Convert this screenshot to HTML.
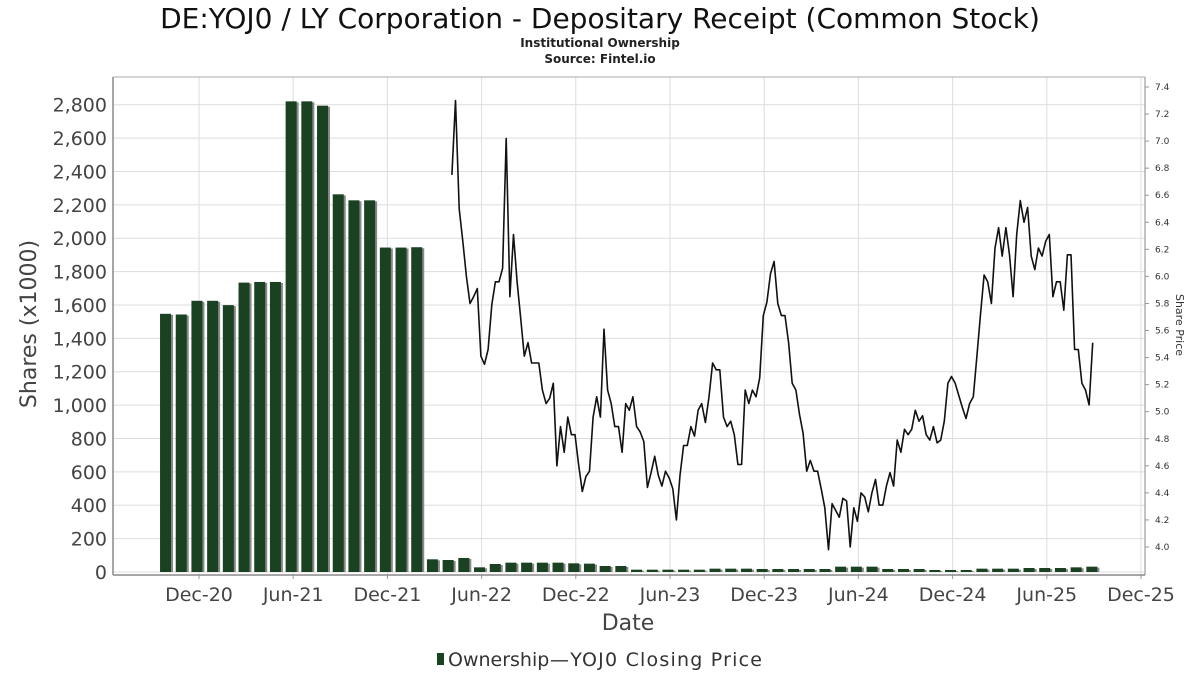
<!DOCTYPE html>
<html><head><meta charset="utf-8"><style>
body{margin:0;background:#fff;font-family:"DejaVu Sans","Liberation Sans",sans-serif;}
svg text{font-family:"DejaVu Sans","Liberation Sans",sans-serif;}
</style></head><body>
<svg id="chart" width="1200" height="675" xmlns="http://www.w3.org/2000/svg">
<rect x="0" y="0" width="1200" height="675" fill="#fff"/>
<text x="600" y="28" text-anchor="middle" font-size="28" fill="#111">DE:YOJ0 / LY Corporation - Depositary Receipt (Common Stock)</text>
<text x="600" y="47" text-anchor="middle" font-size="12" font-weight="bold" fill="#222">Institutional Ownership</text>
<text x="600" y="63" text-anchor="middle" font-size="12" font-weight="bold" fill="#222">Source: Fintel.io</text>
<g id="grid"></g>
<g id="bars"></g>
<g id="line"></g>
<g id="axes"></g>
<text transform="translate(36,324) rotate(-90)" text-anchor="middle" font-size="22" fill="#444">Shares (x1000)</text>
<text transform="translate(1176,325) rotate(90)" text-anchor="middle" font-size="11" fill="#333">Share Price</text>
<text x="628" y="630" text-anchor="middle" font-size="22" fill="#444">Date</text>
<g>
<rect x="437" y="653" width="7" height="12" fill="#1a4222"/>
<text x="448" y="666" font-size="19" fill="#333">Ownership</text>
<text x="550" y="666" font-size="19" fill="#333" textLength="212">—YOJ0 Closing Price</text>
</g>
</svg>
<script>
const ownership=[1547,1543,1625,1625,1599,1734,1738,1738,2820,2820,2794,2263,2227,2227,1944,1944,1946,76,72,84,28,48,56,56,56,56,52,50,36,36,14,14,14,14,14,20,20,20,18,18,18,18,18,32,32,32,18,18,18,12,12,12,20,20,20,24,24,24,28,32];
const prices=[6.75,7.30,6.50,6.26,6.00,5.80,5.85,5.91,5.41,5.35,5.46,5.79,5.96,5.96,6.06,7.02,5.85,6.31,5.96,5.69,5.41,5.51,5.36,5.36,5.36,5.16,5.06,5.10,5.21,4.60,4.89,4.70,4.96,4.83,4.83,4.61,4.41,4.52,4.56,4.96,5.11,4.96,5.61,5.16,5.06,4.89,4.89,4.70,5.06,5.01,5.11,4.89,4.85,4.78,4.44,4.55,4.67,4.53,4.45,4.56,4.51,4.43,4.20,4.53,4.75,4.75,4.89,4.82,5.01,5.06,4.92,5.11,5.36,5.31,5.31,4.96,4.89,4.93,4.83,4.61,4.61,5.16,5.06,5.16,5.11,5.25,5.71,5.81,6.02,6.11,5.80,5.71,5.71,5.51,5.21,5.16,4.98,4.84,4.56,4.64,4.56,4.56,4.43,4.29,3.98,4.32,4.27,4.22,4.36,4.34,4.00,4.29,4.19,4.40,4.37,4.26,4.40,4.50,4.31,4.31,4.45,4.55,4.45,4.79,4.70,4.87,4.83,4.87,5.01,4.93,4.97,4.83,4.79,4.89,4.77,4.79,4.93,5.21,5.26,5.21,5.12,5.03,4.95,5.06,5.11,5.41,5.72,6.01,5.96,5.80,6.21,6.36,6.15,6.36,6.16,5.85,6.31,6.56,6.40,6.51,6.15,6.05,6.21,6.15,6.26,6.31,5.85,5.96,5.96,5.75,6.16,6.16,5.46,5.46,5.21,5.16,5.05,5.51];
const xTickLabels=["Dec-20","Jun-21","Dec-21","Jun-22","Dec-22","Jun-23","Dec-23","Jun-24","Dec-24","Jun-25","Dec-25"];
const yTicks=[0,200,400,600,800,1000,1200,1400,1600,1800,2000,2200,2400,2600,2800];
const y2Ticks=[4.0,4.2,4.4,4.6,4.8,5.0,5.2,5.4,5.6,5.8,6.0,6.2,6.4,6.6,6.8,7.0,7.2,7.4];
const barStartMonth=-2.1;
const priceStartMonth=16.11;
const weekInMonths=0.2306;

const NS="http://www.w3.org/2000/svg";
const L=113,R=1145,T=77,B=575;
const xM=m=>199+m*15.7;
const yS=v=>572-v*(467.3/2800);
const yP=p=>547-(p-4)*135.3;
function mk(tag,attrs,parent,txt){const e=document.createElementNS(NS,tag);for(const k in attrs)e.setAttribute(k,attrs[k]);if(txt!==undefined)e.textContent=txt;parent.appendChild(e);return e;}
const grid=document.getElementById('grid'),axes=document.getElementById('axes'),bars=document.getElementById('bars'),line=document.getElementById('line');
mk('rect',{x:L,y:T,width:R-L,height:B-T,fill:'none',stroke:'#ddd'},grid);
yTicks.forEach(v=>{const y=yS(v);
 const g=mk('line',{x1:L,x2:R,y1:y,y2:y,stroke:'#ddd','stroke-width':1},grid);
 
 
 const t=mk('text',{x:L-6,y:y+7,'text-anchor':'end','font-size':19,fill:'#444'},axes,v.toLocaleString('en-US'));
 
 
});
xTickLabels.forEach((lab,i)=>{const x=xM(i*6);
 const g=mk('line',{x1:x,x2:x,y1:T,y2:B,stroke:'#ddd','stroke-width':1},grid);
 
 
 mk('line',{x1:x,x2:x,y1:B,y2:B+4,stroke:'#999'},axes);
 const t=mk('text',{x:x,y:601,'text-anchor':'middle','font-size':19,fill:'#444'},axes,lab);
 
 
});
y2Ticks.forEach(p=>{const y=yP(p);
 mk('line',{x1:R,x2:R+4,y1:y,y2:y,stroke:'#999'},axes);
 const t=mk('text',{x:R+10,y:y+3,'font-size':9,fill:'#333'},axes,p.toFixed(1));
 
 
});
mk('line',{x1:L,x2:L,y1:T,y2:B,stroke:'#888','stroke-width':1.5},axes);
mk('line',{x1:L,x2:R,y1:B,y2:B,stroke:'#888','stroke-width':1.5},axes);
mk('line',{x1:R,x2:R,y1:T,y2:B,stroke:'#888','stroke-width':1},axes);
mk('line',{x1:L,x2:R,y1:T,y2:T,stroke:'#aaa','stroke-width':1},axes);
ownership.forEach((v,i)=>{const cx=xM(barStartMonth+i);const y=yS(v);const h=572-y;
 const s=mk('rect',{x:cx-4,y:y+1,width:11,height:h-1,fill:'#888'},bars);
 
 
 const b=mk('rect',{x:cx-6,y:y,width:11,height:h,fill:'#1a4222'},bars);
 
 
});
const pts=prices.map((p,i)=>xM(priceStartMonth+i*weekInMonths).toFixed(1)+','+yP(p).toFixed(1)).join(' ');
const pl=mk('polyline',{points:pts,fill:'none',stroke:'#111','stroke-width':1.6,'stroke-linejoin':'round'},line);


</script>
</body></html>
